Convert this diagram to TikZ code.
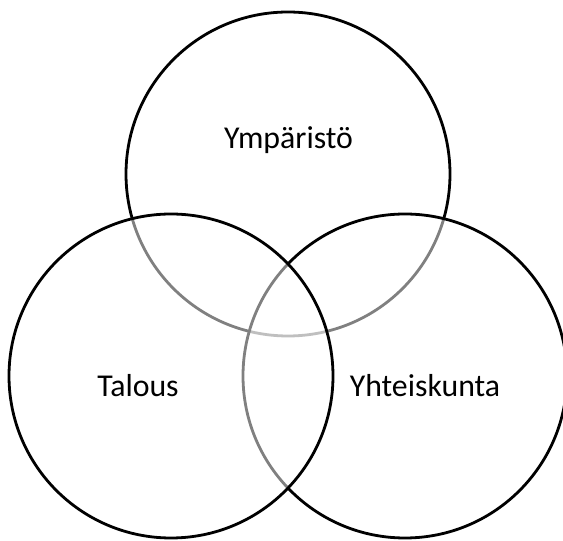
\documentclass[tikz,border=0pt]{standalone}
\usepackage{fontspec}
\setmainfont{Carlito}
\begin{document}
\begin{tikzpicture}[x=1pt,y=1pt,
  venn/.style={circle, draw=black, line width=2.8pt, fill=white, fill opacity=0.5, draw opacity=1, minimum size=324pt, inner sep=0pt},
  lbl/.style={anchor=base, inner sep=0pt, font=\fontsize{31.8}{38}\selectfont}]
\useasboundingbox (0,0) rectangle (563,541);
\node[venn] (ymp) at (288,367) {};
\node[venn] (yht) at (405,165) {};
\node[venn] (tal) at (171,165) {};
\node[lbl] (tymp) at (288.5,392) {Ympäristö};
\node[lbl] (ttal) at (138,144) {Talous};
\node[lbl] (tyht) at (425,144) {Yhteiskunta};
\end{tikzpicture}
\end{document}
